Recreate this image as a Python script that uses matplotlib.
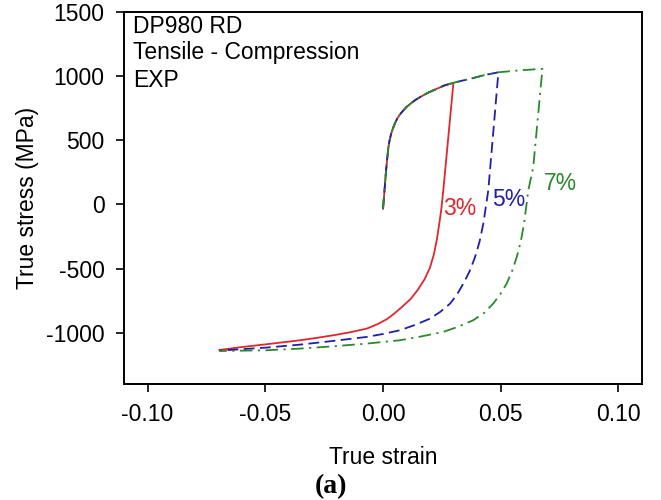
import matplotlib
matplotlib.use("Agg")
import matplotlib.pyplot as plt

plt.rcParams['font.family'] = ['Liberation Sans', 'DejaVu Sans']
plt.rcParams['axes.unicode_minus'] = False

# Common tensile loading path (true strain, true stress MPa)
load_x = [0.0, 0.0005, 0.0013, 0.0018, 0.0023, 0.0028, 0.0035, 0.0044, 0.0052, 0.006,
          0.0072, 0.0086, 0.010, 0.012, 0.0138, 0.0157, 0.019, 0.0228, 0.026, 0.0299,
          0.033, 0.037, 0.043, 0.049, 0.058, 0.0677]
load_y = [-34, 80, 265, 360, 446, 500, 555, 602, 638, 668,
          702, 732, 760, 790, 815, 836, 870, 901, 927, 948,
          962, 979, 1008, 1030, 1045, 1057]

# Reverse (compression) branches
red_x = [0.0299, 0.0256, 0.0248, 0.0239, 0.0229, 0.0216, 0.0199, 0.0176, 0.0148, 0.0117,
         0.008, 0.0045, 0.0016, -0.0025, -0.0069, -0.014, -0.0211, -0.028, -0.0352,
         -0.0494, -0.060, -0.0695]
red_y = [948, 109, -30, -150, -270, -390, -495, -585, -665, -738,
         -800, -855, -895, -935, -968, -997, -1020, -1040, -1059,
         -1090, -1112, -1135]

blue_x = [0.049, 0.0447, 0.0426, 0.041, 0.0391, 0.0368, 0.0341, 0.0315, 0.0285, 0.0245,
          0.020, 0.0135, 0.0072, 0.0, -0.0069, -0.0211, -0.0352, -0.0494, -0.0695]
blue_y = [1030, 109, -150, -290, -410, -520, -618, -700, -773, -835,
          -890, -940, -981, -1010, -1033, -1064, -1093, -1116, -1140]

green_x = [0.0677, 0.0638, 0.0617, 0.0599, 0.0585, 0.0568, 0.0548, 0.0525, 0.0498, 0.0468,
           0.043, 0.0383, 0.032, 0.0256, 0.016, 0.0072, -0.0069, -0.0211, -0.0352,
           -0.0494, -0.0695]
green_y = [1057, 291, 109, -150, -290, -410, -520, -618, -700, -773,
           -845, -903, -953, -994, -1030, -1059, -1085, -1106, -1124,
           -1137, -1143]

labels = ["3%", "5%", "7%"]
label_x = [0.0325, 0.0535, 0.0752]
label_y = [-31, 39, 164]

colors = ['#e0262e', '#1f1fa8', '#2a8a2a']

fig = plt.figure(figsize=(6.61, 5.0), dpi=100)
ax = fig.add_axes([0.1876, 0.232, 0.7837, 0.744])

def branch(peak_x):
    xs = [x for x in load_x if x < peak_x - 1e-9]
    ys = load_y[:len(xs)]
    return xs, ys

lx, ly = branch(red_x[0])
ax.plot(lx + red_x, ly + red_y, color=colors[0], lw=1.3, ls='-')
lx, ly = branch(blue_x[0])
ax.plot(lx + blue_x, ly + blue_y, color=colors[1], lw=1.3, ls=(0, (6, 3)))
lx, ly = branch(green_x[0])
ax.plot(lx + green_x, ly + green_y, color=colors[2], lw=1.3, ls=(0, (7, 3, 1.2, 3)))

for t, x, y, c in zip(labels, label_x, label_y, colors):
    ax.text(x, y, t, color=c, fontsize=16.5, ha='center', va='center')

ax.set_xlim(-0.11, 0.11)
ax.set_ylim(-1400, 1500)
ax.set_xticks([-0.10, -0.05, 0.0, 0.05, 0.10])
ax.set_xticklabels(['-0.10', '-0.05', '0.00', '0.05', '0.10'])
ax.set_yticks([-1000, -500, 0, 500, 1000, 1500])
ax.tick_params(direction='out', length=6, width=1.2, labelsize=16.5, pad=8)
for s in ax.spines.values():
    s.set_linewidth(1.4)

ax.set_xlabel('True strain', fontsize=16.5, labelpad=14)
ax.set_ylabel('True stress (MPa)', fontsize=16.5, labelpad=5)

ax.text(0.0174, 0.9597, 'DP980 RD', transform=ax.transAxes, fontsize=16.5, va='center', ha='left')
ax.text(0.0174, 0.8898, 'Tensile - Compression', transform=ax.transAxes, fontsize=16.5, va='center', ha='left')
ax.text(0.0174, 0.817, 'EXP', transform=ax.transAxes, fontsize=16.5, va='center', ha='left')

fig.text(331 / 661, 1 - 487 / 500, '(a)', family='Liberation Serif', weight='bold',
         fontsize=20, ha='center', va='center')

fig.savefig('out.png', dpi=100)
